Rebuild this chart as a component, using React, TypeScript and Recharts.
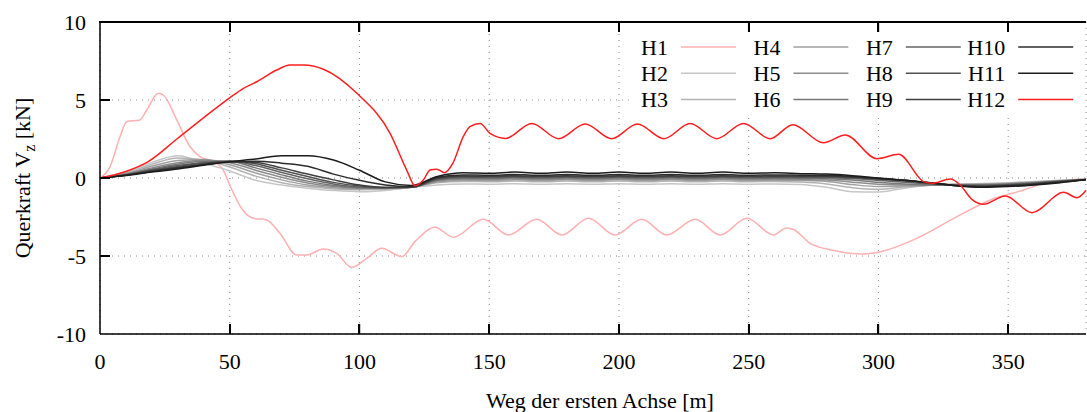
import React from 'react';
import { LineChart, Line, XAxis, YAxis, CartesianGrid, Customized } from 'recharts';

const FONT = '"Liberation Serif", "Times New Roman", serif';

// shared x grid for the grey series H2..H11 (m)
const grayX = [0, 10, 20, 30, 40, 50, 60, 70, 80, 90, 100, 110, 120, 130, 140, 150, 160, 170, 180, 190, 200, 210, 220, 230, 240, 250, 260, 270, 280, 290, 300, 310, 320, 330, 340, 350, 360, 370, 380];

const h2 = [0, 0.4, 1.0, 1.42, 0.95, 0.45, -0.15, -0.45, -0.65, -0.8, -0.88, -0.8, -0.6, -0.45, -0.38, -0.4, -0.37, -0.4, -0.37, -0.4, -0.37, -0.4, -0.37, -0.4, -0.37, -0.4, -0.38, -0.42, -0.6, -0.88, -0.9, -0.65, -0.45, -0.38, -0.35, -0.3, -0.22, -0.15, -0.08];
const h3 = [0, 0.32, 0.88, 1.28, 1.15, 0.7, 0.12, -0.3, -0.55, -0.7, -0.75, -0.72, -0.6, -0.3, -0.22, -0.24, -0.2, -0.24, -0.2, -0.24, -0.2, -0.24, -0.2, -0.24, -0.2, -0.24, -0.22, -0.26, -0.38, -0.62, -0.72, -0.58, -0.46, -0.41, -0.38, -0.33, -0.25, -0.16, -0.08];
const h4 = [0, 0.28, 0.75, 1.12, 1.18, 0.85, 0.32, -0.12, -0.45, -0.62, -0.7, -0.68, -0.6, -0.25, -0.14, -0.16, -0.12, -0.16, -0.12, -0.16, -0.12, -0.16, -0.12, -0.16, -0.12, -0.16, -0.14, -0.16, -0.22, -0.42, -0.55, -0.52, -0.46, -0.42, -0.4, -0.35, -0.27, -0.18, -0.09];
const h5 = [0, 0.25, 0.65, 0.98, 1.15, 0.98, 0.5, 0.05, -0.32, -0.55, -0.66, -0.66, -0.6, -0.2, -0.08, -0.1, -0.06, -0.1, -0.06, -0.1, -0.06, -0.1, -0.06, -0.1, -0.06, -0.1, -0.08, -0.1, -0.13, -0.27, -0.4, -0.45, -0.45, -0.43, -0.42, -0.37, -0.29, -0.19, -0.09];
const h6 = [0, 0.23, 0.58, 0.88, 1.08, 1.05, 0.65, 0.2, -0.2, -0.48, -0.62, -0.64, -0.6, -0.15, -0.02, -0.04, 0, -0.04, 0, -0.04, 0, -0.04, 0, -0.04, 0, -0.04, -0.02, -0.03, -0.05, -0.13, -0.28, -0.38, -0.43, -0.45, -0.44, -0.4, -0.31, -0.2, -0.1];
const h7 = [0, 0.21, 0.53, 0.8, 1.0, 1.08, 0.8, 0.35, -0.05, -0.38, -0.58, -0.63, -0.6, -0.1, 0.03, 0.01, 0.05, 0.01, 0.05, 0.01, 0.05, 0.01, 0.05, 0.01, 0.05, 0.01, 0.03, 0.02, 0.01, -0.04, -0.15, -0.28, -0.38, -0.45, -0.47, -0.42, -0.33, -0.21, -0.1];
const h8 = [0, 0.2, 0.49, 0.74, 0.94, 1.07, 0.92, 0.5, 0.1, -0.28, -0.52, -0.62, -0.6, -0.05, 0.08, 0.06, 0.1, 0.06, 0.1, 0.06, 0.1, 0.06, 0.1, 0.06, 0.1, 0.06, 0.08, 0.07, 0.06, 0.02, -0.08, -0.2, -0.34, -0.46, -0.5, -0.45, -0.35, -0.22, -0.1];
const h9 = [0, 0.18, 0.45, 0.68, 0.88, 1.05, 1.0, 0.65, 0.25, -0.12, -0.45, -0.6, -0.58, 0, 0.13, 0.11, 0.15, 0.11, 0.15, 0.11, 0.15, 0.11, 0.15, 0.11, 0.15, 0.11, 0.13, 0.12, 0.11, 0.06, -0.04, -0.15, -0.32, -0.48, -0.54, -0.48, -0.38, -0.24, -0.1];
const h10 = [0, 0.17, 0.42, 0.64, 0.85, 1.02, 1.08, 0.95, 0.75, 0.25, -0.15, -0.45, -0.55, 0.05, 0.2, 0.17, 0.23, 0.17, 0.23, 0.17, 0.23, 0.17, 0.23, 0.17, 0.23, 0.17, 0.2, 0.18, 0.17, 0.1, -0.02, -0.15, -0.32, -0.5, -0.57, -0.52, -0.42, -0.27, -0.11];
const h11 = [0, 0.16, 0.38, 0.58, 0.82, 1.05, 1.22, 1.43, 1.42, 1.15, 0.5, -0.25, -0.48, 0.1, 0.33, 0.3, 0.38, 0.3, 0.38, 0.3, 0.38, 0.3, 0.38, 0.3, 0.38, 0.3, 0.33, 0.28, 0.25, 0.15, 0.0, -0.15, -0.3, -0.5, -0.6, -0.55, -0.45, -0.3, -0.1];

// H1 (light red)
const h1X = [0, 3.9, 7.7, 10.3, 15.4, 18, 22.5, 24.4, 29.6, 34.7, 38.5, 43.7, 47.5, 50.1, 55.2, 59.1, 64.2, 69.4, 75.8, 79.7, 86.1, 91.2, 97, 102.8, 108.6, 116.3, 121.4, 129.1, 136.2, 147.8, 157.4, 168.3, 178, 188.3, 198.5, 208.8, 218.4, 229.4, 239, 249.3, 259.6, 264.5, 267.3, 273.7, 281.4, 294.3, 299.8, 314.8, 330.3, 343.1, 356, 363.7, 372, 380];
const h1Y = [0, 0.73, 2.65, 3.61, 3.72, 4.36, 5.43, 5.32, 3.72, 2.0, 1.37, 1.05, 0.51, -0.5, -2.1, -2.58, -2.69, -3.55, -4.94, -4.94, -4.55, -4.83, -5.73, -5.15, -4.51, -5.04, -4.08, -3.16, -3.8, -2.65, -3.65, -2.65, -3.65, -2.58, -3.65, -2.65, -3.65, -2.65, -3.65, -2.58, -3.65, -3.2, -3.3, -4.19, -4.6, -4.87, -4.76, -3.87, -2.48, -1.41, -0.77, -0.34, -0.15, -0.05];

// H12 (red)
const h12X = [0, 10, 18.6, 30, 40, 50.1, 55, 60.4, 68.1, 73.2, 78.4, 86.1, 99, 111.8, 118.2, 121.4, 124.6, 127.2, 129.8, 132.8, 136, 140, 142.6, 146.5, 150.3, 156.3, 166.4, 176.7, 187, 197.2, 207.1, 217.4, 227.4, 237.7, 248, 258.3, 267, 278.8, 287.2, 299.4, 307.8, 317.4, 320.6, 327.7, 331.5, 336, 340.5, 348.9, 359.2, 371.4, 376.5, 380];
const h12Y = [0, 0.42, 1.05, 2.55, 3.87, 5.15, 5.72, 6.17, 6.92, 7.24, 7.24, 6.97, 5.43, 2.86, 0.51, -0.49, -0.13, 0.51, 0.56, 0.34, 0.95, 2.65, 3.29, 3.5, 2.86, 2.54, 3.5, 2.52, 3.46, 2.52, 3.46, 2.52, 3.5, 2.52, 3.5, 2.52, 3.42, 2.26, 2.76, 1.24, 1.52, -0.23, -0.34, -0.07, -0.45, -1.37, -1.68, -1.15, -2.22, -0.92, -1.26, -0.8];

const seriesNames = ['H1', 'H2', 'H3', 'H4', 'H5', 'H6', 'H7', 'H8', 'H9', 'H10', 'H11', 'H12'];
const seriesColors = ['#ffb0b0', '#c6c6c6', '#b3b3b3', '#a0a0a0', '#8c8c8c', '#787878', '#646464', '#515151', '#3e3e3e', '#2d2d2d', '#1c1c1c', '#ff1f1f'];

const xTicks = [0, 50, 100, 150, 200, 250, 300, 350];
const yTicks = [-10, -5, 0, 5, 10];
const X_DOMAIN: [number, number] = [0, 380];
const Y_DOMAIN: [number, number] = [-10, 10];

const toPoints = (xs: number[], ys: number[]) => xs.map((x, i) => ({ x, y: ys[i] }));
const grayValues = [h2, h3, h4, h5, h6, h7, h8, h9, h10, h11];
const seriesData = [
  toPoints(h1X, h1Y),
  ...grayValues.map((v) => toPoints(grayX, v)),
  toPoints(h12X, h12Y),
];

// layout
const CHART_W = 1087;
const CHART_H = 412;
const Y_AXIS_W = 100;
const TOP_AXIS_H = 22;
const BOTTOM_AXIS_H = 78;
const RIGHT_M = 1;
const TICK_LEN = 10;
const LEGEND_LEFT = 630;
const LEGEND_TOP = 23;
const PLOT_W = CHART_W - Y_AXIS_W - RIGHT_M;
const PLOT_H = CHART_H - TOP_AXIS_H - BOTTOM_AXIS_H;

const BottomTick = (props: any) => {
  const { x, y, payload } = props;
  return (
    <g>
      {payload.value !== 0 ? (
        <line x1={x} x2={x} y1={y} y2={y - TICK_LEN} stroke="#000" strokeWidth={1.5} />
      ) : null}
      <text x={x} y={y + 35} textAnchor="middle" fontFamily={FONT} fontSize={22} fill="#000">
        {payload.value}
      </text>
    </g>
  );
};

const TopTick = (props: any) => {
  const { x, y, payload } = props;
  if (payload.value === 0) return <g />;
  return <line x1={x} x2={x} y1={y} y2={y + TICK_LEN} stroke="#000" strokeWidth={1.5} />;
};

const LeftTick = (props: any) => {
  const { x, y, payload } = props;
  return (
    <g>
      {payload.value !== -10 && payload.value !== 10 ? (
        <line x1={x} x2={x + TICK_LEN} y1={y} y2={y} stroke="#000" strokeWidth={1.5} />
      ) : null}
      <text x={x - 14} y={y + 7.5} textAnchor="end" fontFamily={FONT} fontSize={22} fill="#000">
        {payload.value}
      </text>
    </g>
  );
};

const xToPx = (v: number) => Y_AXIS_W + ((v - X_DOMAIN[0]) / (X_DOMAIN[1] - X_DOMAIN[0])) * PLOT_W;
const yToPx = (v: number) => TOP_AXIS_H + ((Y_DOMAIN[1] - v) / (Y_DOMAIN[1] - Y_DOMAIN[0])) * PLOT_H;

// frame overlay (top border plus inward ticks)
const FrameOverlay = () => (
  <div style={{ position: 'absolute', left: 0, top: 0, width: CHART_W, height: CHART_H, pointerEvents: 'none', zIndex: 10 }}>
    <div
      style={{
        position: 'absolute',
        left: Y_AXIS_W - 1,
        top: TOP_AXIS_H - 1,
        width: PLOT_W + 1,
        height: 2,
        background: '#000',
      }}
    />
    {xTicks
      .filter((v) => v !== 0)
      .map((v) => (
        <React.Fragment key={v}>
          <div style={{ position: 'absolute', left: xToPx(v) - 1, top: TOP_AXIS_H, width: 2, height: TICK_LEN, background: '#000' }} />
          <div style={{ position: 'absolute', left: xToPx(v) - 1, top: TOP_AXIS_H + PLOT_H - TICK_LEN, width: 2, height: TICK_LEN, background: '#000' }} />
        </React.Fragment>
      ))}
    {yTicks
      .filter((v) => v !== Y_DOMAIN[0] && v !== Y_DOMAIN[1])
      .map((v) => (
        <div key={v} style={{ position: 'absolute', left: Y_AXIS_W, top: yToPx(v) - 1, width: TICK_LEN, height: 2, background: '#000' }} />
      ))}
  </div>
);

const XLabel = (props: any) => {
  const vb = props.viewBox || {};
  const cx = vb.x + vb.width / 2 + 7;
  return (
    <text x={cx} y={vb.y + 74} textAnchor="middle" fontFamily={FONT} fontSize={22} fill="#000">
      Weg der ersten Achse [m]
    </text>
  );
};

const YLabel = (props: any) => {
  const vb = props.viewBox || {};
  const cx = vb.x + 30;
  const cy = vb.y + vb.height / 2;
  return (
    <text
      x={cx}
      y={cy}
      textAnchor="middle"
      fontFamily={FONT}
      fontSize={22}
      fill="#000"
      transform={`rotate(-90 ${cx} ${cy})`}
    >
      Querkraft V<tspan fontSize={16} dy={5}>z</tspan>
      <tspan dy={-5}> [kN]</tspan>
    </text>
  );
};

const LegendSvg = () => (
  <g transform={`translate(${LEGEND_LEFT} ${LEGEND_TOP})`}>
    <rect x={0} y={1} width={455} height={89} fill="#fff" />
    {seriesNames.map((name, i) => {
      const col = Math.floor(i / 3);
      const row = i % 3;
      const lx = 51 + col * 112.4;
      const cy = 24 + row * 26.3;
      return (
        <g key={name}>
          <text x={lx - 13} y={cy + 7.5} textAnchor="end" fontFamily={FONT} fontSize={22} fill="#000">
            {name}
          </text>
          <line x1={lx} x2={lx + 55} y1={cy} y2={cy} stroke={seriesColors[i]} strokeWidth={1.5} />
        </g>
      );
    })}
  </g>
);

export default function App() {
  return (
    <div style={{ position: 'absolute', left: 0, top: 0, width: CHART_W, height: CHART_H, background: '#fff' }}>
      <LineChart width={CHART_W} height={CHART_H} margin={{ top: 0, right: RIGHT_M, bottom: 0, left: 0 }}>
        <CartesianGrid stroke="#8a8a8a" strokeDasharray="1 5" />
        <XAxis
          type="number"
          dataKey="x"
          domain={X_DOMAIN}
          ticks={xTicks}
          height={BOTTOM_AXIS_H}
          tickLine={false}
          tickSize={0}
          tickMargin={0}
          tick={BottomTick}
          axisLine={{ stroke: '#000', strokeWidth: 1.5 }}
          label={{ value: 'x', content: XLabel }}
        />
        <XAxis
          xAxisId="top"
          orientation="top"
          type="number"
          dataKey="x"
          domain={X_DOMAIN}
          ticks={xTicks}
          height={TOP_AXIS_H}
          tickLine={false}
          tickSize={0}
          tickMargin={0}
          tick={TopTick}
          axisLine={{ stroke: '#000', strokeWidth: 1.5 }}
        />
        <YAxis
          type="number"
          domain={Y_DOMAIN}
          ticks={yTicks}
          width={Y_AXIS_W}
          tickLine={false}
          tickSize={0}
          tickMargin={0}
          tick={LeftTick}
          axisLine={{ stroke: '#000', strokeWidth: 1.5 }}
          label={{ value: 'y', content: YLabel }}
        />
        <Customized component={LegendSvg} />
        {seriesNames.map((name, i) => (
          <Line
            key={name}
            name={name}
            xAxisId={i === 0 ? 'top' : 0}
            data={seriesData[i]}
            dataKey="y"
            type="monotone"
            stroke={seriesColors[i]}
            strokeWidth={1.5}
            dot={false}
            activeDot={false}
            isAnimationActive={false}
          />
        ))}
      </LineChart>
      <FrameOverlay />
    </div>
  );
}
